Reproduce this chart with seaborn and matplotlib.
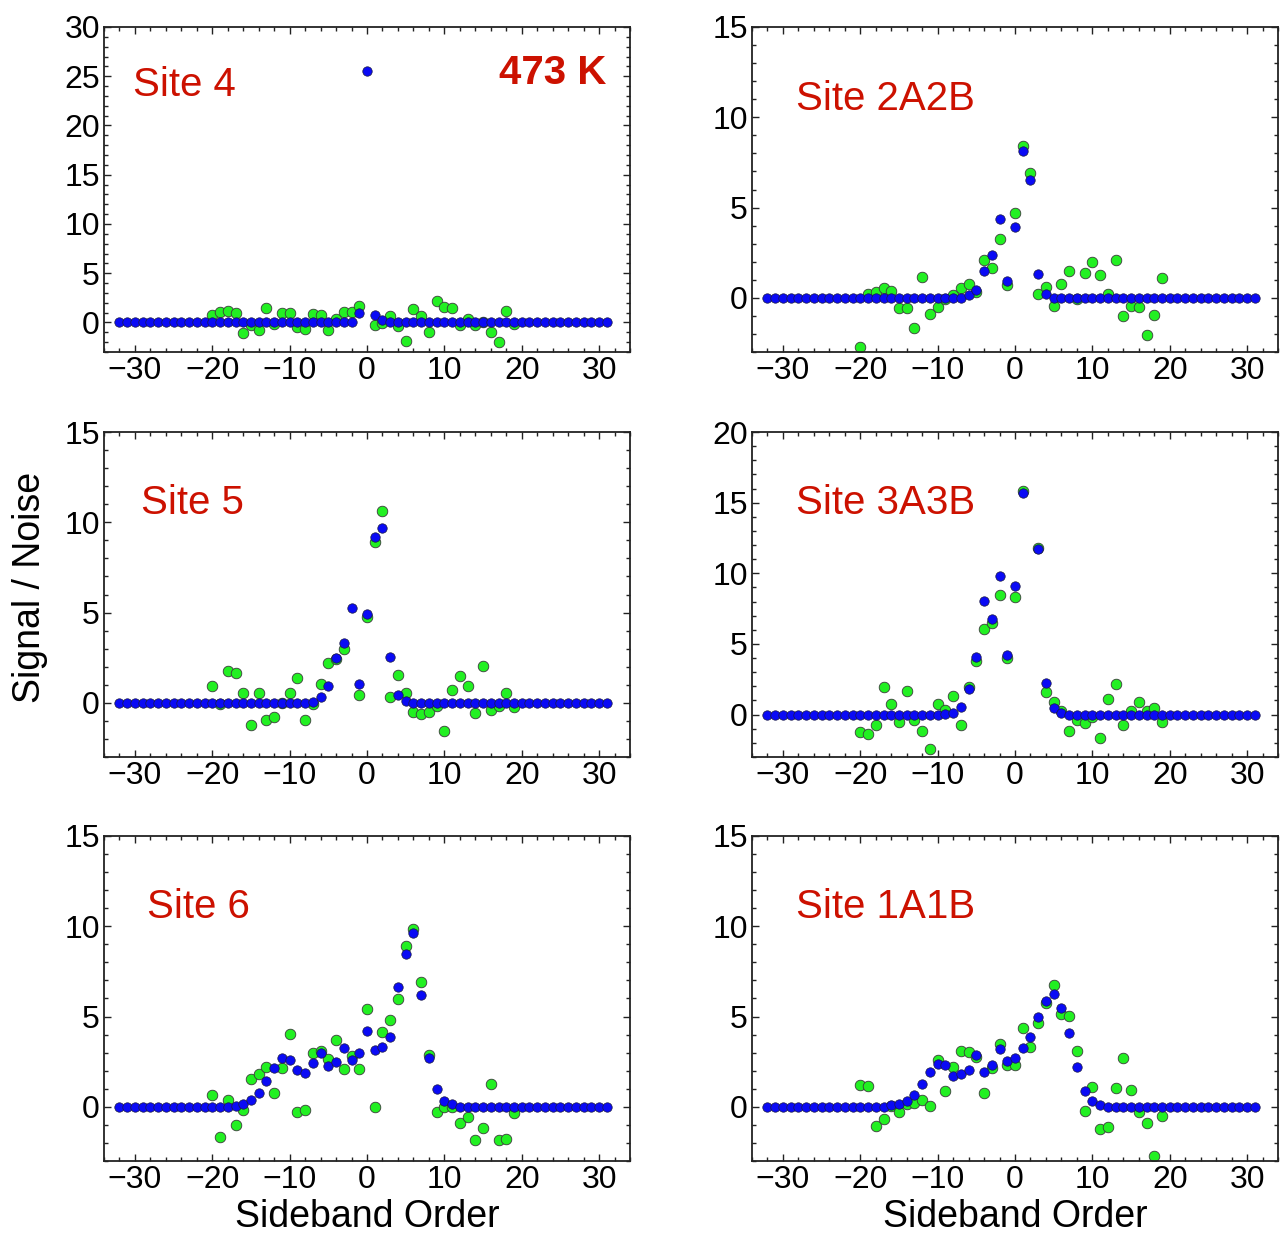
import numpy as np
import pandas as pd
import matplotlib
matplotlib.use("Agg")
import matplotlib.pyplot as plt
from matplotlib.ticker import MultipleLocator
import seaborn as sns

# Sideband orders
orders_fit = list(range(-32, 32))     # simulated spectrum
orders_exp = list(range(-20, 20))     # measured spectrum

# ---- Site 4 ----
site4_fit = [0, 0, 0, 0, 0, 0, 0, 0,
             0, 0, 0, 0, 0, 0, 0, 0,
             0, 0, 0, 0, 0, 0, 0, 0,
             0, 0, 0, 0, 0, 0, 0, 0.95,
             25.5, 0.78, 0.2, 0, 0, 0, 0, 0,
             0, 0, 0, 0, 0, 0, 0, 0,
             0, 0, 0, 0, 0, 0, 0, 0,
             0, 0, 0, 0, 0, 0, 0, 0]
site4_exp = [0.74, 1.05, 1.2, 0.95, -1.08, -0.24, -0.78, 1.42, -0.15, 0.98,
             0.98, -0.47, -0.68, 0.81, 0.74, -0.81, 0.4, 1.05, 1.05, 1.69,
             np.nan, -0.24, -0.07, 0.64, -0.34, -1.9, 1.35, 0.68, -0.95, 2.2,
             1.59, 1.42, -0.27, 0.4, -0.27, 0.05, -0.95, -1.96, 1.2, -0.2]

# ---- Site 2A2B ----
site2_fit = [0, 0, 0, 0, 0, 0, 0, 0,
             0, 0, 0, 0, 0, 0, 0, 0,
             0, 0, 0, 0, 0, 0, 0, 0,
             0, 0, 0.13, 0.46, 1.49, 2.4, 4.35, 0.94,
             3.95, 8.14, 6.5, 1.33, 0.2, 0, 0, 0,
             0, 0, 0, 0, 0, 0, 0, 0,
             0, 0, 0, 0, 0, 0, 0, 0,
             0, 0, 0, 0, 0, 0, 0, 0]
site2_exp = [-2.73, 0.2, 0.3, 0.54, 0.39, -0.55, -0.55, -1.68, 1.16, -0.9,
             -0.48, -0.09, 0.17, 0.55, 0.77, 0.33, 2.1, 1.66, 3.28, 0.7,
             4.69, 8.4, 6.92, 0.22, 0.61, -0.44, 0.77, 1.49, -0.09, 1.38,
             2.0, 1.27, 0.22, 2.08, -1.01, -0.46, -0.5, -2.07, -0.94, 1.1]

# ---- Site 5 ----
site5_fit = [0, 0, 0, 0, 0, 0, 0, 0,
             0, 0, 0, 0, 0, 0, 0, 0,
             0, 0, 0, 0, 0, 0, 0, 0,
             0, 0.07, 0.31, 0.92, 2.49, 3.3, 5.25, 1.05,
             4.92, 9.21, 9.69, 2.56, 0.42, 0.11, 0, 0,
             0, 0, 0, 0, 0, 0, 0, 0,
             0, 0, 0, 0, 0, 0, 0, 0,
             0, 0, 0, 0, 0, 0, 0, 0]
site5_exp = [0.96, -0.09, 1.77, 1.66, 0.57, -1.23, 0.52, -0.96, -0.79, 0.0,
             0.52, 1.36, -0.96, -0.07, 1.03, 2.21, 2.41, 3.0, np.nan, 0.42,
             4.77, 8.9, 10.64, 0.31, 1.55, 0.53, -0.52, -0.61, -0.48, -0.18,
             -1.58, 0.7, 1.51, 0.94, -0.55, 2.03, -0.42, -0.15, 0.57, -0.24]

# ---- Site 3A3B ----
site3_fit = [0, 0, 0, 0, 0, 0, 0, 0,
             0, 0, 0, 0, 0, 0, 0, 0,
             0, 0, 0, 0, 0, 0, 0, 0.05,
             0.14, 0.56, 1.83, 4.08, 8.05, 6.78, 9.84, 4.25,
             9.11, 15.7, np.nan, 11.74, 2.21, 0.47, 0.09, 0,
             0, 0, 0, 0, 0, 0, 0, 0,
             0, 0, 0, 0, 0, 0, 0, 0,
             0, 0, 0, 0, 0, 0, 0, 0]
site3_exp = [-1.2, -1.34, -0.77, 1.95, 0.73, -0.52, 1.67, -0.38, -1.15, -2.44,
             0.73, 0.33, 1.29, -0.75, 1.97, 3.8, 6.06, 6.46, 8.5, 4.01,
             8.33, 15.82, np.nan, 11.78, 1.57, 0.87, 0.23, -1.17, -0.38, -0.59,
             -0.19, -1.64, 1.13, 2.16, -0.77, 0.28, 0.92, 0.28, 0.45, -0.52]

# ---- Site 6 ----
site6_fit = [0, 0, 0, 0, 0, 0, 0, 0,
             0, 0, 0, 0, 0, 0, 0, 0.07,
             0.17, 0.39, 0.79, 1.44, 2.17, 2.69, 2.58, 2.04,
             1.88, 2.41, 2.97, 2.28, 2.5, 3.28, 2.6, 2.97,
             4.22, 3.17, 3.31, 3.87, 6.65, 8.45, 9.61, 6.22,
             2.73, 1.01, 0.35, 0.13, 0, 0, 0, 0,
             0, 0, 0, 0, 0, 0, 0, 0,
             0, 0, 0, 0, 0, 0, 0, 0]
site6_exp = [0.68, -1.68, 0.39, -0.98, -0.2, 1.55, 1.84, 2.21, 0.77, 2.14,
             4.05, -0.26, -0.15, 3.0, 3.08, 2.65, 3.72, 2.08, 2.84, 2.1,
             5.41, 0.0, 4.13, 4.83, 5.95, 8.91, 9.87, 6.89, 2.89, -0.26,
             0.0, 0.0, -0.9, -0.57, -1.82, -1.18, 1.29, -1.82, -1.79, -0.35]

# ---- Site 1A1B ----
site1_fit = [0, 0, 0, 0, 0, 0, 0, 0,
             0, 0, 0, 0, 0, 0, 0, 0,
             0.09, 0.13, 0.31, 0.66, 1.25, 1.92, 2.39, 2.3,
             1.73, 1.84, 2.06, 2.85, 1.92, 2.3, 3.22, 2.54,
             2.73, 3.28, 3.85, 4.95, 5.84, 6.24, 5.45, 4.09,
             2.23, 0.9, 0.33, 0.09, 0, 0, 0, 0,
             0, 0, 0, 0, 0, 0, 0, 0,
             0, 0, 0, 0, 0, 0, 0, 0]
site1_exp = [1.22, 1.14, -1.05, -0.7, 0.04, -0.28, 0.13, 0.24, 0.39, 0.06,
             2.58, 0.87, 2.21, 3.09, 3.02, 2.76, 0.79, 2.17, 3.5, 2.34,
             2.32, 4.38, 3.31, 4.62, 5.73, 6.76, 5.16, 5.01, 3.08, -0.24,
             1.1, -1.2, -1.12, 1.07, 2.73, 0.92, -0.31, -0.87, -2.73, -0.53]

site_labels = ["Site 4", "Site 2A2B", "Site 5", "Site 3A3B", "Site 6", "Site 1A1B"]
fit_series = [site4_fit, site2_fit, site5_fit, site3_fit, site6_fit, site1_fit]
exp_series = [site4_exp, site2_exp, site5_exp, site3_exp, site6_exp, site1_exp]
y_tops = [30, 15, 15, 20, 15, 15]
temperature_label = "473 K"

sns.set_style("ticks")
plt.rcParams["font.family"] = ["Liberation Sans", "DejaVu Sans"]
plt.rcParams["text.color"] = "black"
plt.rcParams["axes.labelcolor"] = "black"
plt.rcParams["xtick.color"] = "black"
plt.rcParams["ytick.color"] = "black"

RED = "#cc1100"
BLUE = "#0a0af5"
GREEN = "#22f022"

fig = plt.figure(figsize=(12.8, 12.37), dpi=100)
W, H = 1280, 1237
col_x = [104, 752]
row_top = [27, 432, 836]
ax_w, ax_h = 526, 325

for i in range(6):
    r, c = divmod(i, 2)
    ax = fig.add_axes([col_x[c] / W, 1 - (row_top[r] + ax_h) / H, ax_w / W, ax_h / H])
    df_exp = pd.DataFrame({"order": orders_exp, "sn": exp_series[i]})
    df_fit = pd.DataFrame({"order": orders_fit, "sn": fit_series[i]})
    sns.scatterplot(data=df_exp, x="order", y="sn", ax=ax, color=GREEN, s=58,
                    edgecolor="#3a3a3a", linewidth=0.6, zorder=2, legend=False)
    sns.scatterplot(data=df_fit, x="order", y="sn", ax=ax, color=BLUE, s=46,
                    edgecolor="#1a1a40", linewidth=0.5, zorder=3, legend=False)
    ax.set_xlim(-34, 34)
    ax.set_ylim(-3, y_tops[i])
    ax.xaxis.set_major_locator(MultipleLocator(10))
    ax.xaxis.set_minor_locator(MultipleLocator(2))
    ax.yaxis.set_major_locator(MultipleLocator(5))
    ax.yaxis.set_minor_locator(MultipleLocator(1))
    ax.tick_params(which="both", direction="in", top=True, right=True,
                   width=1.0, color="#222222", labelcolor="black",
                   labelsize=23, pad=3)
    ax.tick_params(which="major", length=5)
    ax.tick_params(which="minor", length=3)
    for sp in ax.spines.values():
        sp.set_linewidth(1.3)
        sp.set_color("#222222")
    ax.set_ylabel("")
    if r == 2:
        ax.set_xlabel("Sideband Order", fontsize=27, labelpad=3, color="black")
    else:
        ax.set_xlabel("")
    lx = 0.055 if i == 0 else (0.07 if i == 2 else (0.082 if i == 4 else 0.084))
    ly = 0.82 if i == 0 else 0.78
    ax.text(lx, ly, site_labels[i], transform=ax.transAxes, color=RED,
            fontsize=29, ha="left", va="center")
    if i == 0:
        ax.text(0.956, 0.86, temperature_label, transform=ax.transAxes, color=RED,
                fontsize=29, fontweight="bold", ha="right", va="center")

fig.text(30 / W, 1 - 587 / H, "Signal / Noise", rotation=90, fontsize=27,
         ha="center", va="center", color="black")

fig.savefig("out.png", dpi=100)
